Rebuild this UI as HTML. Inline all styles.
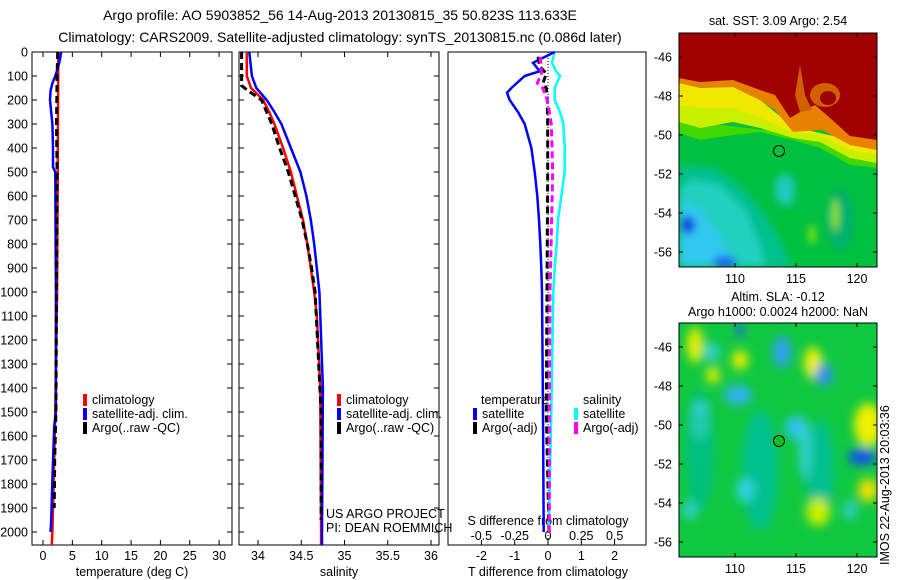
<!DOCTYPE html>
<html><head><meta charset="utf-8"><style>
html,body{margin:0;padding:0;background:#fff;}
svg{display:block;font-family:"Liberation Sans",Arial,sans-serif;}
text{font-size:12.5px;fill:#000;}
</style></head><body>
<svg id="fig" width="900" height="580" viewBox="0 0 900 580">
<defs>
<filter id="blur1" x="-20%" y="-20%" width="140%" height="140%"><feGaussianBlur stdDeviation="4"/></filter>
<filter id="blur2" x="-20%" y="-20%" width="140%" height="140%"><feGaussianBlur stdDeviation="5"/></filter>
<clipPath id="clipTop"><rect x="679" y="33" width="198" height="234"/></clipPath>
<clipPath id="clipBot"><rect x="679" y="323" width="198" height="234"/></clipPath>
</defs>
<text x="340" y="20" text-anchor="middle" style="font-size:14px">Argo profile: AO 5903852_56 14-Aug-2013 20130815_35 50.823S 113.633E</text>
<text x="340" y="42" text-anchor="middle" style="font-size:14px">Climatology: CARS2009. Satellite-adjusted climatology: synTS_20130815.nc (0.086d later)</text>

<g id="p1"></g>
<g id="p2"></g>
<g id="p3"></g>

<!-- top map -->
<g>
<text x="778" y="25" text-anchor="middle">sat. SST: 3.09 Argo: 2.54</text>
<g clip-path="url(#clipTop)">
<rect x="679" y="33" width="198" height="234" fill="#00c040"/>
<g filter="url(#blur1)">
<polygon points="679,165 715,168 745,190 765,215 780,240 792,267 679,267" fill="#00c090"/>
<polygon points="690,180 720,185 745,210 760,245 765,267 679,267 679,190" fill="#20d0c0"/>
<polygon points="679,200 700,210 720,235 735,267 679,267" fill="#30c8f0"/>
<ellipse cx="688" cy="225" rx="7" ry="9" fill="#1040e0"/>
<ellipse cx="725" cy="262" rx="12" ry="6" fill="#2060f0"/>
<ellipse cx="785" cy="190" rx="10" ry="16" fill="#20c8c0"/>
<ellipse cx="840" cy="220" rx="14" ry="30" fill="#00b070"/>
<ellipse cx="835" cy="215" rx="3" ry="16" fill="#a0f000"/>
<ellipse cx="812" cy="235" rx="3" ry="10" fill="#a0f000"/>
</g>
<polygon points="679,133 700,140 733,135 760,132 793,140 820,148 850,165 877,168 877,143 679,120" fill="#40d800"/>
<polygon points="679,122 700,128 733,122 760,128 793,138 820,142 850,158 877,163 877,143 850,140 793,127 760,100 733,87 700,88 679,83" fill="#c8f000"/>
<polygon points="679,105 700,108 733,108 760,118 793,132 820,135 850,150 877,155 877,143 850,140 793,127 760,100 733,87 700,88 679,83" fill="#f0e800"/>
<polygon points="679,33 877,33 877,150 850,145 822,130 793,132 775,110 760,100 733,87 700,88 679,83" fill="#e88000"/>
<polygon points="679,33 877,33 877,140 850,136 830,118 815,105 800,112 790,118 775,95 760,90 733,80 700,82 679,78" fill="#a00000"/>
<polygon points="800,65 805,95 812,110 800,112 795,95" fill="#d06000"/>
<ellipse cx="825" cy="95" rx="15" ry="12" fill="#d06000"/>
<ellipse cx="828" cy="98" rx="8" ry="7" fill="#a00000"/>
</g>
<rect x="679" y="33" width="198" height="234" fill="none" stroke="#000" stroke-width="1"/>
<circle id="c1" cx="779" cy="151" r="5.5" fill="none" stroke="#000" stroke-width="1"/>
<g id="m1ticks"></g>
</g>

<!-- bottom map -->
<g>
<text x="778" y="301" text-anchor="middle">Altim. SLA: -0.12</text>
<text x="778" y="316" text-anchor="middle">Argo h1000: 0.0024 h2000: NaN</text>
<g clip-path="url(#clipBot)">
<rect x="679" y="323" width="198" height="234" fill="#10c840"/>
<g filter="url(#blur2)">
<ellipse cx="700" cy="450" rx="14" ry="60" fill="#00c080"/>
<ellipse cx="760" cy="470" rx="18" ry="60" fill="#00c090"/>
<ellipse cx="820" cy="470" rx="14" ry="50" fill="#00c090"/>
<ellipse cx="700" cy="420" rx="10" ry="20" fill="#20c8b0"/>
<ellipse cx="695" cy="345" rx="8" ry="18" fill="#e8f000"/>
<ellipse cx="740" cy="360" rx="8" ry="10" fill="#e8f000"/>
<ellipse cx="713" cy="375" rx="7" ry="8" fill="#e8f000"/>
<ellipse cx="813" cy="363" rx="9" ry="16" fill="#f0f000"/>
<ellipse cx="868" cy="425" rx="14" ry="22" fill="#f0f000"/>
<ellipse cx="868" cy="490" rx="10" ry="12" fill="#f0e000"/>
<ellipse cx="818" cy="512" rx="12" ry="14" fill="#c8f000"/>
<ellipse cx="712" cy="352" rx="7" ry="9" fill="#30d0e0"/>
<ellipse cx="782" cy="352" rx="9" ry="16" fill="#30a0f0"/>
<ellipse cx="824" cy="375" rx="9" ry="11" fill="#3090f0"/>
<ellipse cx="738" cy="395" rx="14" ry="10" fill="#30b0f0"/>
<ellipse cx="797" cy="428" rx="12" ry="12" fill="#30c0f0"/>
<ellipse cx="862" cy="457" rx="14" ry="8" fill="#1050f0"/>
<ellipse cx="740" cy="330" rx="4" ry="7" fill="#2060f0"/>
<ellipse cx="700" cy="408" rx="8" ry="6" fill="#30d0d0"/>
<ellipse cx="745" cy="490" rx="9" ry="12" fill="#30d0e0"/>
<ellipse cx="690" cy="510" rx="7" ry="9" fill="#30d0d0"/>
<ellipse cx="805" cy="450" rx="6" ry="30" fill="#30d0d0"/>
<ellipse cx="850" cy="510" rx="6" ry="10" fill="#30d0d0"/>
</g>
</g>
<rect x="679" y="323" width="198" height="234" fill="none" stroke="#000" stroke-width="1"/>
<circle id="c2" cx="779" cy="441" r="5.5" fill="#10c020" stroke="#000" stroke-width="1"/>
<g id="m2ticks"></g>
<text transform="translate(889,565) rotate(-90)" style="font-size:12.5px">IMOS 22-Aug-2013 20:03:36</text>
</g>
</svg>
<script>
// ---------- data ----------
const depthTClim = [0, 500, 1000, 1500, 1800, 2000, 2054];
const tempClim = [2.6, 2.5, 2.4, 2.1, 1.8, 1.6, 1.5];
const depthTSat = [0, 30, 60, 100, 130, 160, 200, 250, 300, 400, 480, 500, 1000, 1500, 1560, 1780, 1950, 2000];
const tempSat = [3.1, 2.9, 2.6, 2.1, 1.6, 1.3, 1.2, 1.4, 1.6, 1.7, 1.7, 2.1, 2.2, 2.2, 1.9, 1.6, 1.4, 1.3];
const depthTArgo = [0, 100, 300, 500, 1000, 1500, 1700, 1900];
const tempArgo = [2.5, 2.4, 2.3, 2.4, 2.3, 2.2, 2.0, 1.9];

const depthS = [0, 100, 150, 200, 250, 300, 400, 500, 600, 700, 800, 900, 1000, 1100, 1400, 2000, 2054];
const salClim = [33.87, 33.87, 33.92, 34.06, 34.13, 34.19, 34.29, 34.38, 34.45, 34.52, 34.57, 34.61, 34.65, 34.68, 34.72, 34.73, 34.73];
const salSat = [33.90, 33.93, 33.98, 34.10, 34.19, 34.27, 34.38, 34.49, 34.56, 34.61, 34.65, 34.68, 34.71, 34.72, 34.75, 34.74, 34.74];
const depthSArgo = [0, 140, 160, 200, 300, 400, 500, 600, 700, 800, 900, 1000, 1500, 1950];
const salArgo = [33.81, 33.81, 33.88, 34.04, 34.16, 34.25, 34.35, 34.43, 34.51, 34.57, 34.62, 34.66, 34.73, 34.73];

const depthD = [0, 45, 80, 100, 150, 170, 200, 250, 300, 400, 500, 600, 700, 800, 900, 1000, 1500, 2000];
const dTSat = [0.2, -0.45, -0.25, -0.7, -1.1, -1.23, -1.15, -0.9, -0.7, -0.5, -0.4, -0.32, -0.27, -0.23, -0.2, -0.18, -0.15, -0.13];
const dSSat = [0.05, 0.03, 0.06, 0.09, 0.05, 0.05, 0.05, 0.09, 0.115, 0.125, 0.125, 0.1, 0.075, 0.065, 0.05, 0.04, 0.025, 0.006];
const depthDArgo = [20, 60, 90, 130, 150, 200, 300, 500, 1000, 1500, 2000];
const dTArgo = [-0.3, -0.25, -0.05, -0.15, -0.05, -0.02, -0.01, -0.01, -0.03, -0.05, 0.03];
const dSArgo = [-0.06, -0.05, -0.05, -0.08, -0.04, -0.005, 0.025, 0.035, 0.015, 0.01, 0.01];

const depthTicks = [0,100,200,300,400,500,600,700,800,900,1000,1100,1200,1300,1400,1500,1600,1700,1800,1900,2000];
const tempTicks = [0,5,10,15,20,25,30];
const salTicks = [34,34.5,35,35.5,36];
const dTTicks = [-2,-1,0,1,2];
const dSTicks = [-0.5,-0.25,0,0.25,0.5];
const latTicks = [-46,-48,-50,-52,-54,-56];
const lonTicks = [110,115,120];

// ---------- axes ----------
const NS = 'http://www.w3.org/2000/svg';
const yD = d => 52 + d * 0.24;
const xT = v => 43 + v * 5.87;
const xS = v => 258 + (v - 34) * 86.5;
const xdT = v => 548 + v * 33.3;
const xdS = v => 548 + v * 133.3;
const lonX = v => 735 + (v - 110) * 12.2;
const latY1 = v => 57 + (-46 - v) * 19.5;
const latY2 = v => 347 + (-46 - v) * 19.5;

function mk(tag, attrs, parent) {
  const e = document.createElementNS(NS, tag);
  for (const k in attrs) e.setAttribute(k, attrs[k]);
  parent.appendChild(e);
  return e;
}
function txt(parent, x, y, s, anchor) {
  const t = mk('text', {x: x, y: y, 'text-anchor': anchor || 'middle'}, parent);
  t.textContent = s;
  return t;
}
function line(parent, xs, ds, xf, color, w, dash) {
  const pts = xs.map((v, i) => xf(v).toFixed(1) + ',' + yD(ds[i]).toFixed(1)).join(' ');
  const p = mk('polyline', {points: pts, fill: 'none', stroke: color, 'stroke-width': w}, parent);
  if (dash) p.setAttribute('stroke-dasharray', dash);
  return p;
}
function frame(parent, x0, x1, withDepthLabels) {
  mk('rect', {x: x0, y: 52, width: x1 - x0, height: 493, fill: 'none', stroke: '#000', 'stroke-width': 1}, parent);
  depthTicks.forEach(d => {
    mk('line', {x1: x0, x2: x0 + 5, y1: yD(d), y2: yD(d), stroke: '#000'}, parent);
    mk('line', {x1: x1, x2: x1 - 5, y1: yD(d), y2: yD(d), stroke: '#000'}, parent);
    if (withDepthLabels) txt(parent, 28, yD(d) + 4.5, String(d), 'end');
  });
}
function xticks(parent, ticks, xf, y, labelY, fmt) {
  ticks.forEach(v => {
    mk('line', {x1: xf(v), x2: xf(v), y1: 545, y2: 540, stroke: '#000'}, parent);
    mk('line', {x1: xf(v), x2: xf(v), y1: 52, y2: 57, stroke: '#000'}, parent);
    txt(parent, xf(v), labelY, fmt ? fmt(v) : String(v));
  });
}
function legendItem(parent, x, y, color, label) {
  mk('rect', {x: x, y: y - 10, width: 4, height: 12, fill: color}, parent);
  txt(parent, x + 9, y, label, 'start');
}

// panel 1
const p1 = document.getElementById('p1');
frame(p1, 32, 232, true);
xticks(p1, tempTicks, xT, 545, 560);
txt(p1, 132, 576, 'temperature (deg C)');
let e;
e = line(p1, tempClim, depthTClim, xT, '#ff0000', 2.5);


e = line(p1, tempSat, depthTSat, xT, '#0000ff', 2.5);


e = line(p1, tempArgo, depthTArgo, xT, '#000', 3, '7,4');


const lg1 = mk('g', {}, p1);


legendItem(lg1, 83, 404, '#ff0000', 'climatology');
legendItem(lg1, 83, 418, '#0000ff', 'satellite-adj. clim.');
legendItem(lg1, 83, 432, '#000', 'Argo(..raw -QC)');

// panel 2
const p2 = document.getElementById('p2');
frame(p2, 239, 439, false);
xticks(p2, salTicks, xS, 545, 560);
txt(p2, 339, 576, 'salinity');
e = line(p2, salClim, depthS, xS, '#ff0000', 2.5);


e = line(p2, salSat, depthS, xS, '#0000ff', 2.5);


e = line(p2, salArgo, depthSArgo, xS, '#000', 3, '7,4');


const lg2 = mk('g', {}, p2);


legendItem(lg2, 337, 404, '#ff0000', 'climatology');
legendItem(lg2, 337, 418, '#0000ff', 'satellite-adj. clim.');
legendItem(lg2, 337, 432, '#000', 'Argo(..raw -QC)');
const pr = mk('g', {}, p2);


txt(pr, 326, 518, 'US ARGO PROJECT', 'start');
txt(pr, 326, 532, 'PI: DEAN ROEMMICH', 'start');

// panel 3
const p3 = document.getElementById('p3');
mk('rect', {x: 448, y: 52, width: 198, height: 493, fill: 'none', stroke: '#000', 'stroke-width': 1}, p3);
dTTicks.forEach(v => {
  mk('line', {x1: xdT(v), x2: xdT(v), y1: 545, y2: 540, stroke: '#000'}, p3);
  txt(p3, xdT(v), 560, String(v));
});
dSTicks.forEach(v => { txt(p3, xdS(v), 540, String(v)); });
txt(p3, 548, 525, 'S difference from climatology');
txt(p3, 548, 576, 'T difference from climatology');
mk('line', {x1: 548, x2: 548, y1: 52, y2: 545, stroke: '#000', 'stroke-dasharray': '1,2'}, p3);
e = line(p3, dSSat, depthD, xdS, '#00ffff', 2.5);


e = line(p3, dTSat, depthD, xdT, '#0000ff', 2.5);


e = line(p3, dTArgo, depthDArgo, xdT, '#000', 3, '7,4');


e = line(p3, dSArgo, depthDArgo, xdS, '#ff00ff', 3, '7,4');


const lg3 = mk('g', {}, p3);


txt(lg3, 481, 404, 'temperature', 'start');
legendItem(lg3, 473, 418, '#0000ff', 'satellite');
legendItem(lg3, 473, 432, '#000', 'Argo(-adj)');
txt(lg3, 583, 404, 'salinity', 'start');
legendItem(lg3, 574, 418, '#00ffff', 'satellite');
legendItem(lg3, 574, 432, '#ff00ff', 'Argo(-adj)');

// map ticks
function mapTicks(g, latY, y0, y1) {
  latTicks.forEach(v => {
    mk('line', {x1: 679, x2: 683, y1: latY(v), y2: latY(v), stroke: '#000'}, g);
    mk('line', {x1: 877, x2: 873, y1: latY(v), y2: latY(v), stroke: '#000'}, g);
    txt(g, 672, latY(v) + 4.5, String(v), 'end');
  });
  lonTicks.forEach(v => {
    mk('line', {x1: lonX(v), x2: lonX(v), y1: y0, y2: y0 + 4, stroke: '#000'}, g);
    mk('line', {x1: lonX(v), x2: lonX(v), y1: y1, y2: y1 - 4, stroke: '#000'}, g);
    txt(g, lonX(v), y1 + 16, String(v));
  });
}
const m1 = document.getElementById('m1ticks');


mapTicks(m1, latY1, 33, 267);
const m2 = document.getElementById('m2ticks');


mapTicks(m2, latY2, 323, 557);
</script>
</body></html>
